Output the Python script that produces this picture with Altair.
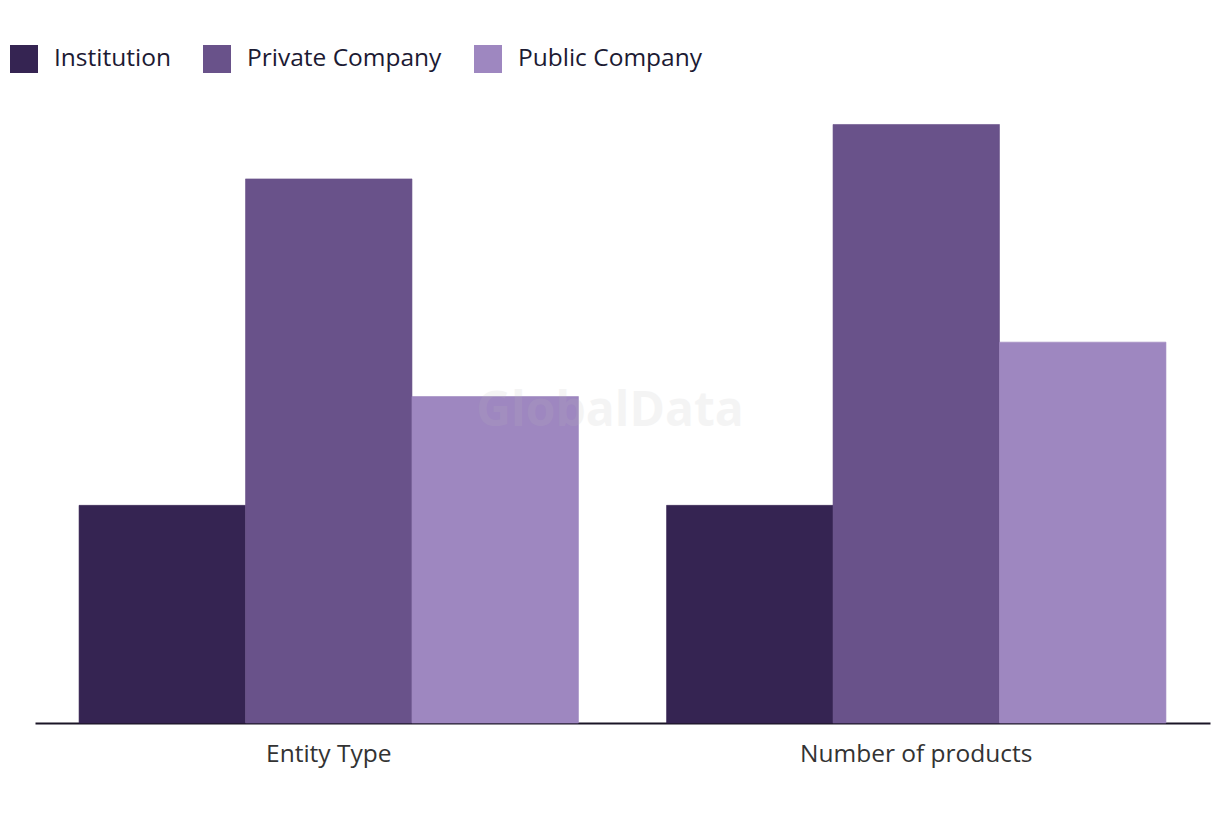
import altair as alt
import pandas as pd

categories = ["Entity Type", "Number of products"]
series = ["Institution", "Private Company", "Public Company"]
institution = [4, 4]
private_company = [10, 11]
public_company = [6, 7]
colors = ["#352452", "#69528a", "#9e87c0"]

rows = []
for i, c in enumerate(categories):
    for s, vals in zip(series, [institution, private_company, public_company]):
        rows.append({"category": c, "series": s, "value": vals[i]})
df = pd.DataFrame(rows)

W, H = 1175, 623
FONT = "Open Sans"

bars = alt.Chart(df).mark_bar(strokeWidth=0.6).encode(
    x=alt.X("category:N", sort=categories, title=None,
            scale=alt.Scale(paddingInner=0.15, paddingOuter=0.075),
            axis=alt.Axis(labelAngle=0, ticks=False, domainColor="#1a1526", domainWidth=2,
                          labelFontSize=24.5, labelColor="#333333", labelFont=FONT,
                          labelPadding=19, labelLimit=0, grid=False)),
    xOffset=alt.XOffset("series:N", sort=series),
    y=alt.Y("value:Q", axis=None, scale=alt.Scale(domain=[0, 11.45], nice=False)),
    color=alt.Color("series:N", sort=series, title=None,
                    scale=alt.Scale(domain=series, range=colors),
                    legend=alt.Legend(orient="none", legendX=-25, legendY=-55,
                                      direction="horizontal", symbolType="square",
                                      symbolSize=784, symbolStrokeWidth=0, symbolOpacity=1,
                                      labelFontSize=24.5, labelFont=FONT, labelColor="#1c1a33",
                                      labelLimit=0, labelOffset=16, columnPadding=32)),
    stroke=alt.Stroke("series:N", sort=series,
                      scale=alt.Scale(domain=series, range=colors), legend=None),
)

wm = alt.Chart(pd.DataFrame({"t": ["GlobalData"]})).mark_text(
    fontSize=48, fontWeight="bold", font=FONT, color="#bbbbbb", opacity=0.15,
    align="center", baseline="middle"
).encode(text="t:N", x=alt.value(575), y=alt.value(312))

chart = alt.layer(bars, wm).properties(
    width=W, height=H,
    autosize=alt.AutoSizeParams(type="none"),
    padding={"left": 27, "top": 92, "right": 2, "bottom": 80},
).configure_view(stroke=None)

chart.save("out.html", embed_options={"renderer": "svg", "actions": False})
